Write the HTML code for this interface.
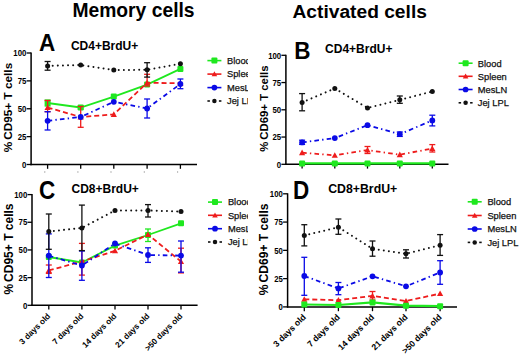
<!DOCTYPE html><html><head><meta charset="utf-8"><style>html,body{margin:0;padding:0;background:#fff;}svg{display:block;}</style></head><body>
<svg width="520" height="356" viewBox="0 0 520 356" font-family='"Liberation Sans", sans-serif'>
<defs><clipPath id="clA"><rect x="0" y="0" width="248" height="356"/></clipPath></defs>
<rect width="520" height="356" fill="#fff"/>
<text x="72.4" y="17.3" font-size="19.3" font-weight="bold" text-anchor="start" fill="#000" >Memory cells</text>
<text x="292.5" y="17.5" font-size="19.2" font-weight="bold" text-anchor="start" fill="#000" >Activated cells</text>
<text transform="translate(39,50.5) scale(1,1.07)" font-size="22.5" font-weight="bold">A</text>
<text x="70.9" y="50.3" font-size="12" font-weight="bold" text-anchor="start" fill="#000" >CD4+BrdU+</text>
<line x1="31.1" y1="52.5" x2="31.1" y2="165.2" stroke="#000" stroke-width="1.5"/>
<line x1="30.40" y1="164.5" x2="197" y2="164.5" stroke="#000" stroke-width="1.5"/>
<line x1="26.6" y1="164.50" x2="31.1" y2="164.50" stroke="#000" stroke-width="1.3"/>
<text transform="translate(26.40,167.70) scale(0.92,1)" font-size="8.5" font-weight="bold" text-anchor="end">0</text>
<line x1="26.6" y1="136.62" x2="31.1" y2="136.62" stroke="#000" stroke-width="1.3"/>
<text transform="translate(26.40,139.82) scale(0.92,1)" font-size="8.5" font-weight="bold" text-anchor="end">25</text>
<line x1="26.6" y1="108.75" x2="31.1" y2="108.75" stroke="#000" stroke-width="1.3"/>
<text transform="translate(26.40,111.95) scale(0.92,1)" font-size="8.5" font-weight="bold" text-anchor="end">50</text>
<line x1="26.6" y1="80.88" x2="31.1" y2="80.88" stroke="#000" stroke-width="1.3"/>
<text transform="translate(26.40,84.08) scale(0.92,1)" font-size="8.5" font-weight="bold" text-anchor="end">75</text>
<line x1="26.6" y1="53.00" x2="31.1" y2="53.00" stroke="#000" stroke-width="1.3"/>
<text transform="translate(26.40,56.20) scale(0.92,1)" font-size="8.5" font-weight="bold" text-anchor="end">100</text>
<line x1="47.60" y1="164.5" x2="47.60" y2="168.8" stroke="#000" stroke-width="1.3"/>
<line x1="80.70" y1="164.5" x2="80.70" y2="168.8" stroke="#000" stroke-width="1.3"/>
<line x1="113.80" y1="164.5" x2="113.80" y2="168.8" stroke="#000" stroke-width="1.3"/>
<line x1="147.10" y1="164.5" x2="147.10" y2="168.8" stroke="#000" stroke-width="1.3"/>
<line x1="180.40" y1="164.5" x2="180.40" y2="168.8" stroke="#000" stroke-width="1.3"/>
<text transform="translate(12.2,62.80) rotate(-90)" font-size="11.8" font-weight="bold" text-anchor="end"><tspan>%</tspan><tspan dx="-1.3"> CD95+ T cells</tspan></text>
<polyline points="47.60,103.00 80.70,107.50 113.80,96.60 147.10,84.60 180.40,68.90" fill="none" stroke="#1fe81f" stroke-width="1.8" />
<line x1="47.60" y1="100.00" x2="47.60" y2="106.00" stroke="#1fe81f" stroke-width="1.3"/>
<line x1="44.60" y1="100.00" x2="50.60" y2="100.00" stroke="#1fe81f" stroke-width="1.3"/>
<line x1="44.60" y1="106.00" x2="50.60" y2="106.00" stroke="#1fe81f" stroke-width="1.3"/>
<line x1="80.70" y1="106.00" x2="80.70" y2="109.00" stroke="#1fe81f" stroke-width="1.3"/>
<line x1="77.70" y1="106.00" x2="83.70" y2="106.00" stroke="#1fe81f" stroke-width="1.3"/>
<line x1="77.70" y1="109.00" x2="83.70" y2="109.00" stroke="#1fe81f" stroke-width="1.3"/>
<rect x="44.60" y="100.00" width="6.00" height="6.00" rx="1" fill="#1fe81f"/>
<rect x="77.70" y="104.50" width="6.00" height="6.00" rx="1" fill="#1fe81f"/>
<rect x="110.80" y="93.60" width="6.00" height="6.00" rx="1" fill="#1fe81f"/>
<rect x="144.10" y="81.60" width="6.00" height="6.00" rx="1" fill="#1fe81f"/>
<rect x="177.40" y="65.90" width="6.00" height="6.00" rx="1" fill="#1fe81f"/>
<polyline points="47.60,107.50 80.70,117.00 113.80,114.40 147.10,82.80 180.40,83.30" fill="none" stroke="#ee1c1c" stroke-width="1.8" stroke-dasharray="5 3"/>
<line x1="47.60" y1="100.50" x2="47.60" y2="111.70" stroke="#ee1c1c" stroke-width="1.3"/>
<line x1="44.60" y1="100.50" x2="50.60" y2="100.50" stroke="#ee1c1c" stroke-width="1.3"/>
<line x1="44.60" y1="111.70" x2="50.60" y2="111.70" stroke="#ee1c1c" stroke-width="1.3"/>
<line x1="80.70" y1="106.50" x2="80.70" y2="127.30" stroke="#ee1c1c" stroke-width="1.3"/>
<line x1="77.70" y1="106.50" x2="83.70" y2="106.50" stroke="#ee1c1c" stroke-width="1.3"/>
<line x1="77.70" y1="127.30" x2="83.70" y2="127.30" stroke="#ee1c1c" stroke-width="1.3"/>
<line x1="147.10" y1="74.30" x2="147.10" y2="86.00" stroke="#ee1c1c" stroke-width="1.3"/>
<line x1="144.10" y1="74.30" x2="150.10" y2="74.30" stroke="#ee1c1c" stroke-width="1.3"/>
<line x1="144.10" y1="86.00" x2="150.10" y2="86.00" stroke="#ee1c1c" stroke-width="1.3"/>
<polygon points="47.60,104.40 50.70,109.98 44.50,109.98" fill="#ee1c1c"/>
<polygon points="80.70,113.90 83.80,119.48 77.60,119.48" fill="#ee1c1c"/>
<polygon points="113.80,111.30 116.90,116.88 110.70,116.88" fill="#ee1c1c"/>
<polygon points="147.10,79.70 150.20,85.28 144.00,85.28" fill="#ee1c1c"/>
<polygon points="180.40,80.20 183.50,85.78 177.30,85.78" fill="#ee1c1c"/>
<polyline points="47.60,120.80 80.70,117.00 113.80,101.80 147.10,108.50 180.40,84.00" fill="none" stroke="#0a0ae6" stroke-width="1.8" stroke-dasharray="4.6 3.2 1.4 3.2"/>
<line x1="47.60" y1="111.70" x2="47.60" y2="130.00" stroke="#0a0ae6" stroke-width="1.3"/>
<line x1="44.60" y1="111.70" x2="50.60" y2="111.70" stroke="#0a0ae6" stroke-width="1.3"/>
<line x1="44.60" y1="130.00" x2="50.60" y2="130.00" stroke="#0a0ae6" stroke-width="1.3"/>
<line x1="147.10" y1="99.00" x2="147.10" y2="118.00" stroke="#0a0ae6" stroke-width="1.3"/>
<line x1="144.10" y1="99.00" x2="150.10" y2="99.00" stroke="#0a0ae6" stroke-width="1.3"/>
<line x1="144.10" y1="118.00" x2="150.10" y2="118.00" stroke="#0a0ae6" stroke-width="1.3"/>
<line x1="180.40" y1="79.00" x2="180.40" y2="88.70" stroke="#0a0ae6" stroke-width="1.3"/>
<line x1="177.40" y1="79.00" x2="183.40" y2="79.00" stroke="#0a0ae6" stroke-width="1.3"/>
<line x1="177.40" y1="88.70" x2="183.40" y2="88.70" stroke="#0a0ae6" stroke-width="1.3"/>
<circle cx="47.60" cy="120.80" r="2.90" fill="#0a0ae6"/>
<circle cx="80.70" cy="117.00" r="2.90" fill="#0a0ae6"/>
<circle cx="113.80" cy="101.80" r="2.90" fill="#0a0ae6"/>
<circle cx="147.10" cy="108.50" r="2.90" fill="#0a0ae6"/>
<circle cx="180.40" cy="84.00" r="2.90" fill="#0a0ae6"/>
<polyline points="47.60,65.90 80.70,65.00 113.80,70.00 147.10,69.80 180.40,63.80" fill="none" stroke="#111" stroke-width="2.0" stroke-dasharray="0.01 5.1" stroke-linecap="round"/>
<line x1="47.60" y1="61.50" x2="47.60" y2="70.20" stroke="#111" stroke-width="1.3"/>
<line x1="44.60" y1="61.50" x2="50.60" y2="61.50" stroke="#111" stroke-width="1.3"/>
<line x1="44.60" y1="70.20" x2="50.60" y2="70.20" stroke="#111" stroke-width="1.3"/>
<line x1="147.10" y1="62.70" x2="147.10" y2="77.10" stroke="#111" stroke-width="1.3"/>
<line x1="144.10" y1="62.70" x2="150.10" y2="62.70" stroke="#111" stroke-width="1.3"/>
<line x1="144.10" y1="77.10" x2="150.10" y2="77.10" stroke="#111" stroke-width="1.3"/>
<circle cx="47.60" cy="65.90" r="2.50" fill="#111"/>
<circle cx="80.70" cy="65.00" r="2.50" fill="#111"/>
<circle cx="113.80" cy="70.00" r="2.50" fill="#111"/>
<circle cx="147.10" cy="69.80" r="2.50" fill="#111"/>
<circle cx="180.40" cy="63.80" r="2.50" fill="#111"/>
<line x1="207.4" y1="60.6" x2="221.4" y2="60.6" stroke="#1fe81f" stroke-width="1.6"/>
<rect x="211.40" y="57.60" width="6.00" height="6.00" rx="1" fill="#1fe81f"/>
<text x="227" y="63.90" font-size="9.3" font-weight="normal" text-anchor="start" fill="#111" clip-path="url(#clA)" stroke="#111" stroke-width="0.25">Blood</text>
<line x1="207.4" y1="74.1" x2="221.4" y2="74.1" stroke="#ee1c1c" stroke-width="1.6"/>
<polygon points="214.40,71.31 217.19,76.33 211.61,76.33" fill="#ee1c1c"/>
<text x="227" y="77.40" font-size="9.3" font-weight="normal" text-anchor="start" fill="#111" clip-path="url(#clA)" stroke="#111" stroke-width="0.25">Spleen</text>
<line x1="207.4" y1="87.6" x2="221.4" y2="87.6" stroke="#0a0ae6" stroke-width="1.6"/>
<circle cx="214.40" cy="87.60" r="2.84" fill="#0a0ae6"/>
<text x="227" y="90.90" font-size="9.3" font-weight="normal" text-anchor="start" fill="#111" clip-path="url(#clA)" stroke="#111" stroke-width="0.25">MesLN</text>
<line x1="207.4" y1="101" x2="209.9" y2="101" stroke="#111" stroke-width="1.6"/>
<line x1="218.9" y1="101" x2="221.4" y2="101" stroke="#111" stroke-width="1.6"/>
<circle cx="214.40" cy="101.00" r="2.25" fill="#111"/>
<text x="227" y="104.30" font-size="9.3" font-weight="normal" text-anchor="start" fill="#111" clip-path="url(#clA)" stroke="#111" stroke-width="0.25">Jej LPL</text>
<circle cx="44.80" cy="172" r="0.65" fill="#999"/>
<circle cx="77.90" cy="172" r="0.65" fill="#999"/>
<circle cx="111.00" cy="172" r="0.65" fill="#999"/>
<circle cx="144.30" cy="172" r="0.65" fill="#999"/>
<circle cx="177.60" cy="172" r="0.65" fill="#999"/>
<text transform="translate(294.3,58.5) scale(1,1.08)" font-size="22.5" font-weight="bold">B</text>
<text x="325.1" y="53.3" font-size="12" font-weight="bold" text-anchor="start" fill="#000" >CD4+BrdU+</text>
<line x1="285.9" y1="54.8" x2="285.9" y2="165.0" stroke="#000" stroke-width="1.5"/>
<line x1="285.20" y1="164.3" x2="448.5" y2="164.3" stroke="#000" stroke-width="1.5"/>
<line x1="281.4" y1="164.30" x2="285.9" y2="164.30" stroke="#000" stroke-width="1.3"/>
<text transform="translate(281.20,167.50) scale(0.92,1)" font-size="8.5" font-weight="bold" text-anchor="end">0</text>
<line x1="281.4" y1="137.05" x2="285.9" y2="137.05" stroke="#000" stroke-width="1.3"/>
<text transform="translate(281.20,140.25) scale(0.92,1)" font-size="8.5" font-weight="bold" text-anchor="end">25</text>
<line x1="281.4" y1="109.80" x2="285.9" y2="109.80" stroke="#000" stroke-width="1.3"/>
<text transform="translate(281.20,113.00) scale(0.92,1)" font-size="8.5" font-weight="bold" text-anchor="end">50</text>
<line x1="281.4" y1="82.55" x2="285.9" y2="82.55" stroke="#000" stroke-width="1.3"/>
<text transform="translate(281.20,85.75) scale(0.92,1)" font-size="8.5" font-weight="bold" text-anchor="end">75</text>
<line x1="281.4" y1="55.30" x2="285.9" y2="55.30" stroke="#000" stroke-width="1.3"/>
<text transform="translate(281.20,58.50) scale(0.92,1)" font-size="8.5" font-weight="bold" text-anchor="end">100</text>
<line x1="302.10" y1="164.3" x2="302.10" y2="168.60000000000002" stroke="#000" stroke-width="1.3"/>
<line x1="334.80" y1="164.3" x2="334.80" y2="168.60000000000002" stroke="#000" stroke-width="1.3"/>
<line x1="367.50" y1="164.3" x2="367.50" y2="168.60000000000002" stroke="#000" stroke-width="1.3"/>
<line x1="399.80" y1="164.3" x2="399.80" y2="168.60000000000002" stroke="#000" stroke-width="1.3"/>
<line x1="432.30" y1="164.3" x2="432.30" y2="168.60000000000002" stroke="#000" stroke-width="1.3"/>
<text transform="translate(268.1,65.40) rotate(-90)" font-size="11.4" font-weight="bold" text-anchor="end"><tspan>%</tspan><tspan dx="-1.3"> CD69+ T cells</tspan></text>
<polyline points="302.10,102.40 334.80,88.50 367.50,107.90 399.80,99.80 432.30,91.50" fill="none" stroke="#111" stroke-width="2.0" stroke-dasharray="0.01 5.1" stroke-linecap="round"/>
<line x1="302.10" y1="93.60" x2="302.10" y2="110.80" stroke="#111" stroke-width="1.3"/>
<line x1="299.10" y1="93.60" x2="305.10" y2="93.60" stroke="#111" stroke-width="1.3"/>
<line x1="299.10" y1="110.80" x2="305.10" y2="110.80" stroke="#111" stroke-width="1.3"/>
<line x1="399.80" y1="96.00" x2="399.80" y2="103.30" stroke="#111" stroke-width="1.3"/>
<line x1="396.80" y1="96.00" x2="402.80" y2="96.00" stroke="#111" stroke-width="1.3"/>
<line x1="396.80" y1="103.30" x2="402.80" y2="103.30" stroke="#111" stroke-width="1.3"/>
<circle cx="302.10" cy="102.40" r="2.50" fill="#111"/>
<circle cx="334.80" cy="88.50" r="2.50" fill="#111"/>
<circle cx="367.50" cy="107.90" r="2.50" fill="#111"/>
<circle cx="399.80" cy="99.80" r="2.50" fill="#111"/>
<circle cx="432.30" cy="91.50" r="2.50" fill="#111"/>
<polyline points="302.10,142.40 334.80,138.10 367.50,125.20 399.80,134.20 432.30,120.40" fill="none" stroke="#0a0ae6" stroke-width="1.8" stroke-dasharray="4.6 3.2 1.4 3.2"/>
<line x1="302.10" y1="140.20" x2="302.10" y2="144.40" stroke="#0a0ae6" stroke-width="1.3"/>
<line x1="299.10" y1="140.20" x2="305.10" y2="140.20" stroke="#0a0ae6" stroke-width="1.3"/>
<line x1="299.10" y1="144.40" x2="305.10" y2="144.40" stroke="#0a0ae6" stroke-width="1.3"/>
<line x1="399.80" y1="132.00" x2="399.80" y2="136.40" stroke="#0a0ae6" stroke-width="1.3"/>
<line x1="396.80" y1="132.00" x2="402.80" y2="132.00" stroke="#0a0ae6" stroke-width="1.3"/>
<line x1="396.80" y1="136.40" x2="402.80" y2="136.40" stroke="#0a0ae6" stroke-width="1.3"/>
<line x1="432.30" y1="115.20" x2="432.30" y2="125.90" stroke="#0a0ae6" stroke-width="1.3"/>
<line x1="429.30" y1="115.20" x2="435.30" y2="115.20" stroke="#0a0ae6" stroke-width="1.3"/>
<line x1="429.30" y1="125.90" x2="435.30" y2="125.90" stroke="#0a0ae6" stroke-width="1.3"/>
<circle cx="302.10" cy="142.40" r="2.90" fill="#0a0ae6"/>
<circle cx="334.80" cy="138.10" r="2.90" fill="#0a0ae6"/>
<circle cx="367.50" cy="125.20" r="2.90" fill="#0a0ae6"/>
<circle cx="399.80" cy="134.20" r="2.90" fill="#0a0ae6"/>
<circle cx="432.30" cy="120.40" r="2.90" fill="#0a0ae6"/>
<polyline points="302.10,152.70 334.80,155.30 367.50,150.10 399.80,154.70 432.30,148.50" fill="none" stroke="#ee1c1c" stroke-width="1.8" stroke-dasharray="4.6 3.2 1.4 3.2"/>
<line x1="367.50" y1="146.50" x2="367.50" y2="153.50" stroke="#ee1c1c" stroke-width="1.3"/>
<line x1="364.50" y1="146.50" x2="370.50" y2="146.50" stroke="#ee1c1c" stroke-width="1.3"/>
<line x1="364.50" y1="153.50" x2="370.50" y2="153.50" stroke="#ee1c1c" stroke-width="1.3"/>
<line x1="432.30" y1="144.60" x2="432.30" y2="152.00" stroke="#ee1c1c" stroke-width="1.3"/>
<line x1="429.30" y1="144.60" x2="435.30" y2="144.60" stroke="#ee1c1c" stroke-width="1.3"/>
<line x1="429.30" y1="152.00" x2="435.30" y2="152.00" stroke="#ee1c1c" stroke-width="1.3"/>
<polygon points="302.10,149.60 305.20,155.18 299.00,155.18" fill="#ee1c1c"/>
<polygon points="334.80,152.20 337.90,157.78 331.70,157.78" fill="#ee1c1c"/>
<polygon points="367.50,147.00 370.60,152.58 364.40,152.58" fill="#ee1c1c"/>
<polygon points="399.80,151.60 402.90,157.18 396.70,157.18" fill="#ee1c1c"/>
<polygon points="432.30,145.40 435.40,150.98 429.20,150.98" fill="#ee1c1c"/>
<polyline points="302.10,163.40 334.80,163.40 367.50,163.40 399.80,163.40 432.30,163.40" fill="none" stroke="#1fe81f" stroke-width="2.2" />
<rect x="299.10" y="160.40" width="6.00" height="6.00" rx="1" fill="#1fe81f"/>
<rect x="331.80" y="160.40" width="6.00" height="6.00" rx="1" fill="#1fe81f"/>
<rect x="364.50" y="160.40" width="6.00" height="6.00" rx="1" fill="#1fe81f"/>
<rect x="396.80" y="160.40" width="6.00" height="6.00" rx="1" fill="#1fe81f"/>
<rect x="429.30" y="160.40" width="6.00" height="6.00" rx="1" fill="#1fe81f"/>
<line x1="458.6" y1="63.2" x2="472.6" y2="63.2" stroke="#1fe81f" stroke-width="1.6"/>
<rect x="462.60" y="60.20" width="6.00" height="6.00" rx="1" fill="#1fe81f"/>
<text x="477.8" y="66.50" font-size="9.3" font-weight="normal" text-anchor="start" fill="#111"  stroke="#111" stroke-width="0.25">Blood</text>
<line x1="458.6" y1="76.3" x2="472.6" y2="76.3" stroke="#ee1c1c" stroke-width="1.6"/>
<polygon points="465.60,73.51 468.39,78.53 462.81,78.53" fill="#ee1c1c"/>
<text x="477.8" y="79.60" font-size="9.3" font-weight="normal" text-anchor="start" fill="#111"  stroke="#111" stroke-width="0.25">Spleen</text>
<line x1="458.6" y1="89.5" x2="472.6" y2="89.5" stroke="#0a0ae6" stroke-width="1.6"/>
<circle cx="465.60" cy="89.50" r="2.84" fill="#0a0ae6"/>
<text x="477.8" y="92.80" font-size="9.3" font-weight="normal" text-anchor="start" fill="#111"  stroke="#111" stroke-width="0.25">MesLN</text>
<line x1="458.6" y1="102.8" x2="461.1" y2="102.8" stroke="#111" stroke-width="1.6"/>
<line x1="470.1" y1="102.8" x2="472.6" y2="102.8" stroke="#111" stroke-width="1.6"/>
<circle cx="465.60" cy="102.80" r="2.25" fill="#111"/>
<text x="477.8" y="106.10" font-size="9.3" font-weight="normal" text-anchor="start" fill="#111"  stroke="#111" stroke-width="0.25">Jej LPL</text>
<text transform="translate(39,199) scale(1,1.17)" font-size="22.5" font-weight="bold">C</text>
<text x="71.5" y="193.1" font-size="12" font-weight="bold" text-anchor="start" fill="#000" >CD8+BrdU+</text>
<line x1="32" y1="194.1" x2="32" y2="306.0" stroke="#000" stroke-width="1.5"/>
<line x1="31.30" y1="305.3" x2="197.6" y2="305.3" stroke="#000" stroke-width="1.5"/>
<line x1="27.5" y1="305.30" x2="32" y2="305.30" stroke="#000" stroke-width="1.3"/>
<text transform="translate(27.30,308.50) scale(0.92,1)" font-size="8.5" font-weight="bold" text-anchor="end">0</text>
<line x1="27.5" y1="277.62" x2="32" y2="277.62" stroke="#000" stroke-width="1.3"/>
<text transform="translate(27.30,280.82) scale(0.92,1)" font-size="8.5" font-weight="bold" text-anchor="end">25</text>
<line x1="27.5" y1="249.95" x2="32" y2="249.95" stroke="#000" stroke-width="1.3"/>
<text transform="translate(27.30,253.15) scale(0.92,1)" font-size="8.5" font-weight="bold" text-anchor="end">50</text>
<line x1="27.5" y1="222.27" x2="32" y2="222.27" stroke="#000" stroke-width="1.3"/>
<text transform="translate(27.30,225.47) scale(0.92,1)" font-size="8.5" font-weight="bold" text-anchor="end">75</text>
<line x1="27.5" y1="194.60" x2="32" y2="194.60" stroke="#000" stroke-width="1.3"/>
<text transform="translate(27.30,197.80) scale(0.92,1)" font-size="8.5" font-weight="bold" text-anchor="end">100</text>
<line x1="48.80" y1="305.3" x2="48.80" y2="309.6" stroke="#000" stroke-width="1.3"/>
<line x1="81.90" y1="305.3" x2="81.90" y2="309.6" stroke="#000" stroke-width="1.3"/>
<line x1="115.00" y1="305.3" x2="115.00" y2="309.6" stroke="#000" stroke-width="1.3"/>
<line x1="148.00" y1="305.3" x2="148.00" y2="309.6" stroke="#000" stroke-width="1.3"/>
<line x1="181.00" y1="305.3" x2="181.00" y2="309.6" stroke="#000" stroke-width="1.3"/>
<text transform="translate(13.1,203.50) rotate(-90)" font-size="12" font-weight="bold" text-anchor="end"><tspan>%</tspan><tspan dx="-1.3"> CD95+ T cells</tspan></text>
<polyline points="48.80,257.00 81.90,262.50 115.00,245.60 148.00,235.00 181.00,223.30" fill="none" stroke="#1fe81f" stroke-width="1.8" />
<line x1="148.00" y1="229.00" x2="148.00" y2="241.50" stroke="#1fe81f" stroke-width="1.3"/>
<line x1="145.00" y1="229.00" x2="151.00" y2="229.00" stroke="#1fe81f" stroke-width="1.3"/>
<line x1="145.00" y1="241.50" x2="151.00" y2="241.50" stroke="#1fe81f" stroke-width="1.3"/>
<rect x="45.80" y="254.00" width="6.00" height="6.00" rx="1" fill="#1fe81f"/>
<rect x="78.90" y="259.50" width="6.00" height="6.00" rx="1" fill="#1fe81f"/>
<rect x="112.00" y="242.60" width="6.00" height="6.00" rx="1" fill="#1fe81f"/>
<rect x="145.00" y="232.00" width="6.00" height="6.00" rx="1" fill="#1fe81f"/>
<rect x="178.00" y="220.30" width="6.00" height="6.00" rx="1" fill="#1fe81f"/>
<polyline points="48.80,270.40 81.90,261.50 115.00,250.80 148.00,234.50 181.00,261.50" fill="none" stroke="#ee1c1c" stroke-width="1.8" stroke-dasharray="5 3"/>
<line x1="48.80" y1="265.00" x2="48.80" y2="273.40" stroke="#ee1c1c" stroke-width="1.3"/>
<line x1="45.80" y1="265.00" x2="51.80" y2="265.00" stroke="#ee1c1c" stroke-width="1.3"/>
<line x1="45.80" y1="273.40" x2="51.80" y2="273.40" stroke="#ee1c1c" stroke-width="1.3"/>
<line x1="81.90" y1="243.40" x2="81.90" y2="275.10" stroke="#ee1c1c" stroke-width="1.3"/>
<line x1="78.90" y1="243.40" x2="84.90" y2="243.40" stroke="#ee1c1c" stroke-width="1.3"/>
<line x1="78.90" y1="275.10" x2="84.90" y2="275.10" stroke="#ee1c1c" stroke-width="1.3"/>
<line x1="181.00" y1="248.20" x2="181.00" y2="272.90" stroke="#ee1c1c" stroke-width="1.3"/>
<line x1="178.00" y1="248.20" x2="184.00" y2="248.20" stroke="#ee1c1c" stroke-width="1.3"/>
<line x1="178.00" y1="272.90" x2="184.00" y2="272.90" stroke="#ee1c1c" stroke-width="1.3"/>
<polygon points="48.80,267.30 51.90,272.88 45.70,272.88" fill="#ee1c1c"/>
<polygon points="81.90,258.40 85.00,263.98 78.80,263.98" fill="#ee1c1c"/>
<polygon points="115.00,247.70 118.10,253.28 111.90,253.28" fill="#ee1c1c"/>
<polygon points="148.00,231.40 151.10,236.98 144.90,236.98" fill="#ee1c1c"/>
<polygon points="181.00,258.40 184.10,263.98 177.90,263.98" fill="#ee1c1c"/>
<polyline points="48.80,255.70 81.90,265.50 115.00,243.50 148.00,255.00 181.00,255.60" fill="none" stroke="#0a0ae6" stroke-width="1.8" stroke-dasharray="4.6 3.2 1.4 3.2"/>
<line x1="48.80" y1="233.90" x2="48.80" y2="277.50" stroke="#0a0ae6" stroke-width="1.3"/>
<line x1="45.80" y1="233.90" x2="51.80" y2="233.90" stroke="#0a0ae6" stroke-width="1.3"/>
<line x1="45.80" y1="277.50" x2="51.80" y2="277.50" stroke="#0a0ae6" stroke-width="1.3"/>
<line x1="81.90" y1="251.00" x2="81.90" y2="280.30" stroke="#0a0ae6" stroke-width="1.3"/>
<line x1="78.90" y1="251.00" x2="84.90" y2="251.00" stroke="#0a0ae6" stroke-width="1.3"/>
<line x1="78.90" y1="280.30" x2="84.90" y2="280.30" stroke="#0a0ae6" stroke-width="1.3"/>
<line x1="148.00" y1="247.80" x2="148.00" y2="262.40" stroke="#0a0ae6" stroke-width="1.3"/>
<line x1="145.00" y1="247.80" x2="151.00" y2="247.80" stroke="#0a0ae6" stroke-width="1.3"/>
<line x1="145.00" y1="262.40" x2="151.00" y2="262.40" stroke="#0a0ae6" stroke-width="1.3"/>
<line x1="181.00" y1="241.00" x2="181.00" y2="272.20" stroke="#0a0ae6" stroke-width="1.3"/>
<line x1="178.00" y1="241.00" x2="184.00" y2="241.00" stroke="#0a0ae6" stroke-width="1.3"/>
<line x1="178.00" y1="272.20" x2="184.00" y2="272.20" stroke="#0a0ae6" stroke-width="1.3"/>
<circle cx="48.80" cy="255.70" r="2.90" fill="#0a0ae6"/>
<circle cx="81.90" cy="265.50" r="2.90" fill="#0a0ae6"/>
<circle cx="115.00" cy="243.50" r="2.90" fill="#0a0ae6"/>
<circle cx="148.00" cy="255.00" r="2.90" fill="#0a0ae6"/>
<circle cx="181.00" cy="255.60" r="2.90" fill="#0a0ae6"/>
<polyline points="48.80,231.50 81.90,227.90 115.00,210.50 148.00,210.50 181.00,211.50" fill="none" stroke="#111" stroke-width="2.0" stroke-dasharray="0.01 5.1" stroke-linecap="round"/>
<line x1="48.80" y1="214.00" x2="48.80" y2="249.30" stroke="#111" stroke-width="1.3"/>
<line x1="45.80" y1="214.00" x2="51.80" y2="214.00" stroke="#111" stroke-width="1.3"/>
<line x1="45.80" y1="249.30" x2="51.80" y2="249.30" stroke="#111" stroke-width="1.3"/>
<line x1="81.90" y1="205.10" x2="81.90" y2="250.60" stroke="#111" stroke-width="1.3"/>
<line x1="78.90" y1="205.10" x2="84.90" y2="205.10" stroke="#111" stroke-width="1.3"/>
<line x1="78.90" y1="250.60" x2="84.90" y2="250.60" stroke="#111" stroke-width="1.3"/>
<line x1="148.00" y1="204.60" x2="148.00" y2="217.00" stroke="#111" stroke-width="1.3"/>
<line x1="145.00" y1="204.60" x2="151.00" y2="204.60" stroke="#111" stroke-width="1.3"/>
<line x1="145.00" y1="217.00" x2="151.00" y2="217.00" stroke="#111" stroke-width="1.3"/>
<circle cx="48.80" cy="231.50" r="2.50" fill="#111"/>
<circle cx="81.90" cy="227.90" r="2.50" fill="#111"/>
<circle cx="115.00" cy="210.50" r="2.50" fill="#111"/>
<circle cx="148.00" cy="210.50" r="2.50" fill="#111"/>
<circle cx="181.00" cy="211.50" r="2.50" fill="#111"/>
<line x1="208" y1="202.1" x2="222" y2="202.1" stroke="#1fe81f" stroke-width="1.6"/>
<rect x="212.00" y="199.10" width="6.00" height="6.00" rx="1" fill="#1fe81f"/>
<text x="227.9" y="205.40" font-size="9.3" font-weight="normal" text-anchor="start" fill="#111" clip-path="url(#clA)" stroke="#111" stroke-width="0.25">Blood</text>
<line x1="208" y1="215.3" x2="222" y2="215.3" stroke="#ee1c1c" stroke-width="1.6"/>
<polygon points="215.00,212.51 217.79,217.53 212.21,217.53" fill="#ee1c1c"/>
<text x="227.9" y="218.60" font-size="9.3" font-weight="normal" text-anchor="start" fill="#111" clip-path="url(#clA)" stroke="#111" stroke-width="0.25">Spleen</text>
<line x1="208" y1="228.7" x2="222" y2="228.7" stroke="#0a0ae6" stroke-width="1.6"/>
<circle cx="215.00" cy="228.70" r="2.84" fill="#0a0ae6"/>
<text x="227.9" y="232.00" font-size="9.3" font-weight="normal" text-anchor="start" fill="#111" clip-path="url(#clA)" stroke="#111" stroke-width="0.25">MesLN</text>
<line x1="208" y1="242" x2="210.5" y2="242" stroke="#111" stroke-width="1.6"/>
<line x1="219.5" y1="242" x2="222" y2="242" stroke="#111" stroke-width="1.6"/>
<circle cx="215.00" cy="242.00" r="2.25" fill="#111"/>
<text x="227.9" y="245.30" font-size="9.3" font-weight="normal" text-anchor="start" fill="#111" clip-path="url(#clA)" stroke="#111" stroke-width="0.25">Jej LPL</text>
<text transform="translate(50.90,316.60) rotate(-45)" font-size="8.2" font-weight="bold" text-anchor="end">3 days old</text>
<text transform="translate(84.00,316.60) rotate(-45)" font-size="8.2" font-weight="bold" text-anchor="end">7 days old</text>
<text transform="translate(117.10,316.60) rotate(-45)" font-size="8.2" font-weight="bold" text-anchor="end">14 days old</text>
<text transform="translate(150.10,316.60) rotate(-45)" font-size="8.2" font-weight="bold" text-anchor="end">21 days old</text>
<text transform="translate(183.10,316.60) rotate(-45)" font-size="8.2" font-weight="bold" text-anchor="end">&gt;50 days old</text>
<text transform="translate(292.9,199.1) scale(1,1.17)" font-size="22.5" font-weight="bold">D</text>
<text x="328.2" y="192.8" font-size="12.3" font-weight="bold" text-anchor="start" fill="#000" >CD8+BrdU+</text>
<line x1="287.6" y1="193.3" x2="287.6" y2="307.59999999999997" stroke="#000" stroke-width="1.5"/>
<line x1="286.90" y1="306.9" x2="457" y2="306.9" stroke="#000" stroke-width="1.5"/>
<line x1="283.1" y1="306.90" x2="287.6" y2="306.90" stroke="#000" stroke-width="1.3"/>
<text transform="translate(282.90,310.10) scale(0.92,1)" font-size="8.5" font-weight="bold" text-anchor="end">0</text>
<line x1="283.1" y1="278.62" x2="287.6" y2="278.62" stroke="#000" stroke-width="1.3"/>
<text transform="translate(282.90,281.82) scale(0.92,1)" font-size="8.5" font-weight="bold" text-anchor="end">25</text>
<line x1="283.1" y1="250.35" x2="287.6" y2="250.35" stroke="#000" stroke-width="1.3"/>
<text transform="translate(282.90,253.55) scale(0.92,1)" font-size="8.5" font-weight="bold" text-anchor="end">50</text>
<line x1="283.1" y1="222.07" x2="287.6" y2="222.07" stroke="#000" stroke-width="1.3"/>
<text transform="translate(282.90,225.27) scale(0.92,1)" font-size="8.5" font-weight="bold" text-anchor="end">75</text>
<line x1="283.1" y1="193.80" x2="287.6" y2="193.80" stroke="#000" stroke-width="1.3"/>
<text transform="translate(282.90,197.00) scale(0.92,1)" font-size="8.5" font-weight="bold" text-anchor="end">100</text>
<line x1="304.30" y1="306.9" x2="304.30" y2="311.2" stroke="#000" stroke-width="1.3"/>
<line x1="338.40" y1="306.9" x2="338.40" y2="311.2" stroke="#000" stroke-width="1.3"/>
<line x1="372.50" y1="306.9" x2="372.50" y2="311.2" stroke="#000" stroke-width="1.3"/>
<line x1="406.00" y1="306.9" x2="406.00" y2="311.2" stroke="#000" stroke-width="1.3"/>
<line x1="440.10" y1="306.9" x2="440.10" y2="311.2" stroke="#000" stroke-width="1.3"/>
<text transform="translate(268.4,203.50) rotate(-90)" font-size="12.1" font-weight="bold" text-anchor="end"><tspan>%</tspan><tspan dx="-1.3"> CD69+ T cells</tspan></text>
<polyline points="304.30,235.50 338.40,227.20 372.50,248.80 406.00,253.70 440.10,245.30" fill="none" stroke="#111" stroke-width="2.0" stroke-dasharray="0.01 5.1" stroke-linecap="round"/>
<line x1="304.30" y1="224.70" x2="304.30" y2="245.90" stroke="#111" stroke-width="1.3"/>
<line x1="301.30" y1="224.70" x2="307.30" y2="224.70" stroke="#111" stroke-width="1.3"/>
<line x1="301.30" y1="245.90" x2="307.30" y2="245.90" stroke="#111" stroke-width="1.3"/>
<line x1="338.40" y1="219.00" x2="338.40" y2="234.30" stroke="#111" stroke-width="1.3"/>
<line x1="335.40" y1="219.00" x2="341.40" y2="219.00" stroke="#111" stroke-width="1.3"/>
<line x1="335.40" y1="234.30" x2="341.40" y2="234.30" stroke="#111" stroke-width="1.3"/>
<line x1="372.50" y1="241.00" x2="372.50" y2="256.20" stroke="#111" stroke-width="1.3"/>
<line x1="369.50" y1="241.00" x2="375.50" y2="241.00" stroke="#111" stroke-width="1.3"/>
<line x1="369.50" y1="256.20" x2="375.50" y2="256.20" stroke="#111" stroke-width="1.3"/>
<line x1="406.00" y1="249.80" x2="406.00" y2="258.00" stroke="#111" stroke-width="1.3"/>
<line x1="403.00" y1="249.80" x2="409.00" y2="249.80" stroke="#111" stroke-width="1.3"/>
<line x1="403.00" y1="258.00" x2="409.00" y2="258.00" stroke="#111" stroke-width="1.3"/>
<line x1="440.10" y1="234.60" x2="440.10" y2="255.40" stroke="#111" stroke-width="1.3"/>
<line x1="437.10" y1="234.60" x2="443.10" y2="234.60" stroke="#111" stroke-width="1.3"/>
<line x1="437.10" y1="255.40" x2="443.10" y2="255.40" stroke="#111" stroke-width="1.3"/>
<circle cx="304.30" cy="235.50" r="2.50" fill="#111"/>
<circle cx="338.40" cy="227.20" r="2.50" fill="#111"/>
<circle cx="372.50" cy="248.80" r="2.50" fill="#111"/>
<circle cx="406.00" cy="253.70" r="2.50" fill="#111"/>
<circle cx="440.10" cy="245.30" r="2.50" fill="#111"/>
<polyline points="304.30,276.00 338.40,288.40 372.50,276.30 406.00,286.30 440.10,272.50" fill="none" stroke="#0a0ae6" stroke-width="1.8" stroke-dasharray="4.6 3.2 1.4 3.2"/>
<line x1="304.30" y1="257.30" x2="304.30" y2="295.30" stroke="#0a0ae6" stroke-width="1.3"/>
<line x1="301.30" y1="257.30" x2="307.30" y2="257.30" stroke="#0a0ae6" stroke-width="1.3"/>
<line x1="301.30" y1="295.30" x2="307.30" y2="295.30" stroke="#0a0ae6" stroke-width="1.3"/>
<line x1="338.40" y1="282.50" x2="338.40" y2="294.70" stroke="#0a0ae6" stroke-width="1.3"/>
<line x1="335.40" y1="282.50" x2="341.40" y2="282.50" stroke="#0a0ae6" stroke-width="1.3"/>
<line x1="335.40" y1="294.70" x2="341.40" y2="294.70" stroke="#0a0ae6" stroke-width="1.3"/>
<line x1="440.10" y1="260.70" x2="440.10" y2="284.30" stroke="#0a0ae6" stroke-width="1.3"/>
<line x1="437.10" y1="260.70" x2="443.10" y2="260.70" stroke="#0a0ae6" stroke-width="1.3"/>
<line x1="437.10" y1="284.30" x2="443.10" y2="284.30" stroke="#0a0ae6" stroke-width="1.3"/>
<circle cx="304.30" cy="276.00" r="2.90" fill="#0a0ae6"/>
<circle cx="338.40" cy="288.40" r="2.90" fill="#0a0ae6"/>
<circle cx="372.50" cy="276.30" r="2.90" fill="#0a0ae6"/>
<circle cx="406.00" cy="286.30" r="2.90" fill="#0a0ae6"/>
<circle cx="440.10" cy="272.50" r="2.90" fill="#0a0ae6"/>
<polyline points="304.30,299.30 338.40,300.20 372.50,295.90 406.00,301.00 440.10,293.60" fill="none" stroke="#ee1c1c" stroke-width="1.8" stroke-dasharray="5 3"/>
<line x1="372.50" y1="291.50" x2="372.50" y2="300.00" stroke="#ee1c1c" stroke-width="1.3"/>
<line x1="369.50" y1="291.50" x2="375.50" y2="291.50" stroke="#ee1c1c" stroke-width="1.3"/>
<line x1="369.50" y1="300.00" x2="375.50" y2="300.00" stroke="#ee1c1c" stroke-width="1.3"/>
<polygon points="304.30,296.20 307.40,301.78 301.20,301.78" fill="#ee1c1c"/>
<polygon points="338.40,297.10 341.50,302.68 335.30,302.68" fill="#ee1c1c"/>
<polygon points="372.50,292.80 375.60,298.38 369.40,298.38" fill="#ee1c1c"/>
<polygon points="406.00,297.90 409.10,303.48 402.90,303.48" fill="#ee1c1c"/>
<polygon points="440.10,290.50 443.20,296.08 437.00,296.08" fill="#ee1c1c"/>
<polyline points="304.30,304.50 338.40,305.00 372.50,302.40 406.00,305.70 440.10,306.20" fill="none" stroke="#1fe81f" stroke-width="2.2" />
<rect x="301.30" y="301.50" width="6.00" height="6.00" rx="1" fill="#1fe81f"/>
<rect x="335.40" y="302.00" width="6.00" height="6.00" rx="1" fill="#1fe81f"/>
<rect x="369.50" y="299.40" width="6.00" height="6.00" rx="1" fill="#1fe81f"/>
<rect x="403.00" y="302.70" width="6.00" height="6.00" rx="1" fill="#1fe81f"/>
<rect x="437.10" y="303.20" width="6.00" height="6.00" rx="1" fill="#1fe81f"/>
<line x1="467.7" y1="201.8" x2="481.7" y2="201.8" stroke="#1fe81f" stroke-width="1.6"/>
<rect x="471.70" y="198.80" width="6.00" height="6.00" rx="1" fill="#1fe81f"/>
<text x="487.4" y="205.10" font-size="9.3" font-weight="normal" text-anchor="start" fill="#111"  stroke="#111" stroke-width="0.25">Blood</text>
<line x1="467.7" y1="215.5" x2="481.7" y2="215.5" stroke="#ee1c1c" stroke-width="1.6"/>
<polygon points="474.70,212.71 477.49,217.73 471.91,217.73" fill="#ee1c1c"/>
<text x="487.4" y="218.80" font-size="9.3" font-weight="normal" text-anchor="start" fill="#111"  stroke="#111" stroke-width="0.25">Spleen</text>
<line x1="467.7" y1="229" x2="481.7" y2="229" stroke="#0a0ae6" stroke-width="1.6"/>
<circle cx="474.70" cy="229.00" r="2.84" fill="#0a0ae6"/>
<text x="487.4" y="232.30" font-size="9.3" font-weight="normal" text-anchor="start" fill="#111"  stroke="#111" stroke-width="0.25">MesLN</text>
<line x1="467.7" y1="242.4" x2="470.2" y2="242.4" stroke="#111" stroke-width="1.6"/>
<line x1="479.2" y1="242.4" x2="481.7" y2="242.4" stroke="#111" stroke-width="1.6"/>
<circle cx="474.70" cy="242.40" r="2.25" fill="#111"/>
<text x="487.4" y="245.70" font-size="9.3" font-weight="normal" text-anchor="start" fill="#111"  stroke="#111" stroke-width="0.25">Jej LPL</text>
<text transform="translate(306.40,317.70) rotate(-45)" font-size="8.6" font-weight="bold" text-anchor="end">3 days old</text>
<text transform="translate(340.50,317.70) rotate(-45)" font-size="8.6" font-weight="bold" text-anchor="end">7 days old</text>
<text transform="translate(374.60,317.70) rotate(-45)" font-size="8.6" font-weight="bold" text-anchor="end">14 days old</text>
<text transform="translate(408.10,317.70) rotate(-45)" font-size="8.6" font-weight="bold" text-anchor="end">21 days old</text>
<text transform="translate(442.20,317.70) rotate(-45)" font-size="8.6" font-weight="bold" text-anchor="end">&gt;50 days old</text>
</svg></body></html>
